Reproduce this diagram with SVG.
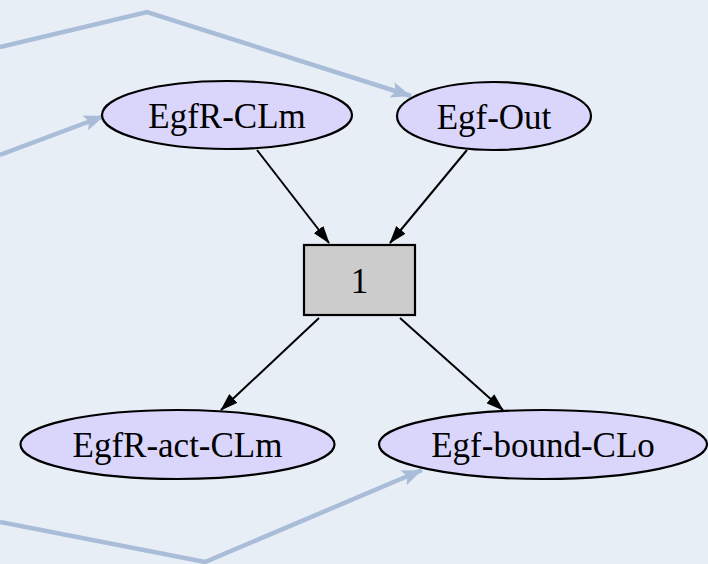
<svg xmlns="http://www.w3.org/2000/svg" width="708" height="564" viewBox="0 0 708 564">
<style>
.node ellipse{fill:#dad6fb;stroke:#000;stroke-width:2.2}
.node rect{fill:#cccccc;stroke:#000;stroke-width:2.2}
.node text{font-family:"Liberation Serif","Times New Roman",serif;font-size:35px;fill:#000;text-anchor:middle}
.edge{stroke:#000;stroke-width:2;fill:none;marker-end:url(#ah)}
.bga{stroke:#a9bdd8;stroke-width:4.5;fill:none;stroke-linejoin:miter;marker-end:url(#bh)}
</style>
<defs>
<marker id="ah" markerWidth="18" markerHeight="12" refX="17" refY="6" orient="auto" markerUnits="userSpaceOnUse" viewBox="0 0 18 12">
<path d="M0,0 L18,6 L0,12 Z" fill="#000"/>
</marker>
<marker id="bh" markerWidth="20" markerHeight="16" refX="20" refY="8" orient="auto" markerUnits="userSpaceOnUse" viewBox="0 0 20 16">
<path d="M0,0 L20,8 L0,16 L4,8 Z" fill="#a9bdd8"/>
</marker>
</defs>
<rect width="708" height="564" fill="#e7eef6"/>
<g id="background-lines">
<polyline class="bga" points="0,47 147,12 411,96"/>
<polyline class="bga" points="0,155 104,116"/>
<polyline class="bga" points="0,522 205,562 422,470"/>
</g>
<g id="connectors">
<line class="edge" x1="257" y1="150" x2="329" y2="243"/>
<line class="edge" x1="467" y1="150" x2="390" y2="243"/>
<line class="edge" x1="319" y1="318" x2="221" y2="410"/>
<line class="edge" x1="400" y1="318" x2="503" y2="410"/>
</g>
<g id="EgfR-CLm" class="node">
<ellipse cx="227" cy="115" rx="125" ry="34"/>
<text x="227" y="128">EgfR-CLm</text>
</g>
<g id="Egf-Out" class="node">
<ellipse cx="494" cy="116" rx="97" ry="34"/>
<text x="494" y="129">Egf-Out</text>
</g>
<g id="reaction-1" class="node">
<rect x="304" y="245" width="111" height="70"/>
<text x="359.5" y="293">1</text>
</g>
<g id="EgfR-act-CLm" class="node">
<ellipse cx="177.5" cy="444.5" rx="157" ry="34.5"/>
<text x="177.5" y="457">EgfR-act-CLm</text>
</g>
<g id="Egf-bound-CLo" class="node">
<ellipse cx="543" cy="444.5" rx="164" ry="34.5"/>
<text x="543" y="457">Egf-bound-CLo</text>
</g>
</svg>
